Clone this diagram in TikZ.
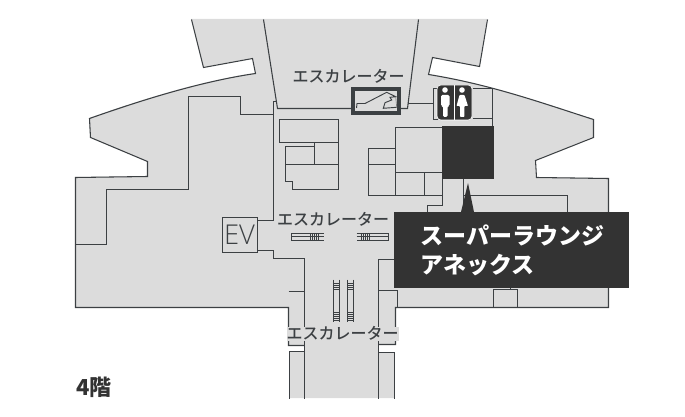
\documentclass[tikz,border=0pt]{standalone}
\usepackage{fontspec}
\setmainfont{Noto Sans CJK JP}
\newfontfamily\evfont{Open Sans Light}
\newfontfamily\escfont{Noto Sans CJK JP Medium}
\definecolor{floorgray}{HTML}{DCDCDC}
\definecolor{wallgray}{HTML}{3C4043}
\definecolor{panelgray}{HTML}{333333}
\begin{document}
\begin{tikzpicture}[x=0.75pt,y=-0.75pt,
  wall/.style={draw=wallgray,line width=0.8pt,xshift=0.375pt,yshift=-0.375pt},
  esctext/.style={text=wallgray,inner sep=0pt,font=\escfont\fontsize{12}{12}\selectfont},
  escstep/.style={draw=wallgray,line width=0.6pt,xshift=0.375pt,yshift=-0.375pt}]
 \useasboundingbox (0,0) rectangle (685,417);
 % floor
 \fill[floorgray] (191,19) -- (203,67) -- (252,58) -- (255,73) .. controls (200,81) and (140,100) .. (89,118) -- (90,137) -- (147,161) -- (147,176) -- (75,177) -- (75,307) -- (288,307) -- (288,345) -- (304,345) -- (304,351) -- (289,351) -- (289,398) -- (394,398) -- (394,352) -- (378,352) -- (378,344) -- (395,344) -- (395,307) -- (608,307) -- (608,178) -- (536,177) -- (535,160) -- (593,137) -- (593,119) .. controls (540,102) and (490,84) .. (428,74) -- (432,57) -- (479,66) -- (487,19) -- cycle;
 % outline
 \draw[wall] (191,19) -- (203,67) -- (252,58) -- (255,73) .. controls (200,81) and (140,100) .. (89,118) -- (90,137) -- (147,161) -- (147,176) -- (75,177) -- (75,307) -- (288,307) -- (288,345) -- (304,345);
 \draw[wall] (289,398) -- (289,351) -- (304,351);
 \draw[wall] (394,398) -- (394,352) -- (378,352);
 \draw[wall] (378,344) -- (395,344) -- (395,307) -- (608,307) -- (608,178) -- (536,177) -- (535,160) -- (593,137) -- (593,119) .. controls (540,102) and (490,84) .. (428,74) -- (432,57) -- (479,66) -- (487,19);
 % center
 \draw[wall] (263,19) -- (277,108) -- (407,108) -- (418,19);
 \draw[wall] (273,101) -- (276,101);
 \draw[wall] (273,101) -- (273,220) -- (257,220);
 \draw[wall] (257,250) -- (273,250) -- (273,258) -- (304,258) -- (304,398);
 \draw[wall] (75,244) -- (106,244) -- (106,189) -- (188,189) -- (188,96) -- (240,96) -- (240,114) -- (273,114);
 \draw[wall] (288,291) -- (304,291);
 \draw[wall] (378,398) -- (378,259) -- (394,259);
 \draw[wall] (378,290) -- (397,290) -- (397,307);
 \draw[wall] (493,307) -- (493,289) -- (517,289) -- (517,307);
 \draw[wall] (510,285) -- (510,289);
 \draw[wall] (407,103) -- (433,103);
 \draw[wall] (437,88) -- (433,88) -- (433,119) -- (437,119);
 \draw[wall] (472,88) -- (492,88) -- (492,126);
 \draw[wall] (472,118) -- (492,118);
 % rooms
 \draw[wall] (279,119) rectangle (338,142);
 \draw[wall] (314,142) -- (314,146) -- (285,146) -- (285,181) -- (292,181) -- (292,189) -- (338,189) -- (338,142);
 \draw[wall] (314,146) -- (314,164);
 \draw[wall] (285,164) -- (338,164);
 \draw[wall] (442,127) -- (395,127) -- (395,195);
 \draw[wall] (395,148) -- (368,148) -- (368,195) -- (442,195);
 \draw[wall] (368,164) -- (395,164);
 \draw[wall] (395,172) -- (442,172);
 \draw[wall] (424,172) -- (424,195);
 \draw[wall] (442,179) -- (442,205) -- (427,205) -- (427,212);
 \draw[wall] (463,179) -- (463,212);
 \draw[wall] (463,195) -- (567,195) -- (567,212);
 \fill[panelgray] (442,126) rectangle (494,179);
 % EV
 \node[draw=wallgray,line width=0.75pt,minimum size=26.25pt,inner sep=0pt,text=wallgray,font=\evfont\fontsize{20.5}{20.5}\selectfont] (ev) at (239.5,235) {EV};
 % escalators
 \draw[draw=wallgray,fill=floorgray,line width=3pt] (353,89) rectangle (399,113);
 \draw[draw=wallgray,line width=0.7pt] (356.5,108) -- (357,103.5) -- (365,103.5) -- (386.7,92.3) -- (395.7,96.7) -- (390,97.3) -- (391.7,100) -- (385,102.7) -- (383.3,108.3) -- (396.7,107.3);
 \draw[draw=gray,line width=0.5pt] (395.7,96.7) -- (396.7,107.3);
 \draw[escstep] (323,233) -- (291,233) -- (291,240) -- (323,240);
 \draw[escstep] (291,236) -- (323,236);
 \foreach \stepx in {310,312,314,316,318}
   \draw[escstep] (\stepx,233) -- (\stepx,240);
 \draw[escstep] (356,233) -- (388,233) -- (388,240) -- (356,240);
 \draw[escstep] (356,236) -- (388,236);
 \foreach \stepx in {361,363,365,367,369}
   \draw[escstep] (\stepx,233) -- (\stepx,240);
 \foreach \escx in {333,347} {
   \draw[wall] (\escx,279) -- (\escx,321);
   \draw[wall] (\escx+6,279) -- (\escx+6,321);
   \foreach \stepy in {283,285,287,289,312,314,316,318,320}
     \draw[escstep] (\escx,\stepy) -- (\escx+6,\stepy);
 }
 % toilets
 \fill[panelgray,draw=white,line width=0.4pt,rounded corners=3pt] (437,85) rectangle (472,120);
 \draw[white,line width=1pt] (454.5,85) -- (454.5,120);
 \fill[white] (445,90) circle (2.8);
 \fill[white,rounded corners=1pt] (441,95) -- (449.5,95) -- (449.5,106) -- (447.5,106) -- (447.5,117) -- (443,117) -- (443,106) -- (441,106) -- cycle;
 \fill[white] (462,90) circle (2.8);
 \fill[white,rounded corners=0.6pt] (459.5,95) -- (464.5,95) -- (468,106) -- (464.3,106) -- (464.3,117) -- (460,117) -- (460,106) -- (456.5,106) -- cycle;
 % labels
 \node[esctext] (escup) at (348.5,76) {エスカレーター};
 \node[esctext] (escmid) at (333,219) {エスカレーター};
 \node[esctext,fill=floorgray,inner xsep=0pt,inner ysep=0pt,text height=9pt,text depth=1pt] (esclow) at (342.5,334) {エスカレーター};
 \node[text=panelgray,inner sep=0pt,anchor=west,font=\bfseries\fontsize{16.5}{16.5}\selectfont] (floorname) at (76,387) {4階};
 % callout
 \fill[panelgray] (461,212) -- (468,183) -- (474,212) -- cycle;
 \fill[panelgray] (394,212) rectangle (629,288);
 \node[text=white,inner sep=0pt,anchor=west,font=\bfseries\fontsize{17.25}{17.25}\selectfont] (loungea) at (420,235) {スーパーラウンジ};
 \node[text=white,inner sep=0pt,anchor=west,font=\bfseries\fontsize{17.25}{17.25}\selectfont] (loungeb) at (420,265) {アネックス};
\end{tikzpicture}
\end{document}
